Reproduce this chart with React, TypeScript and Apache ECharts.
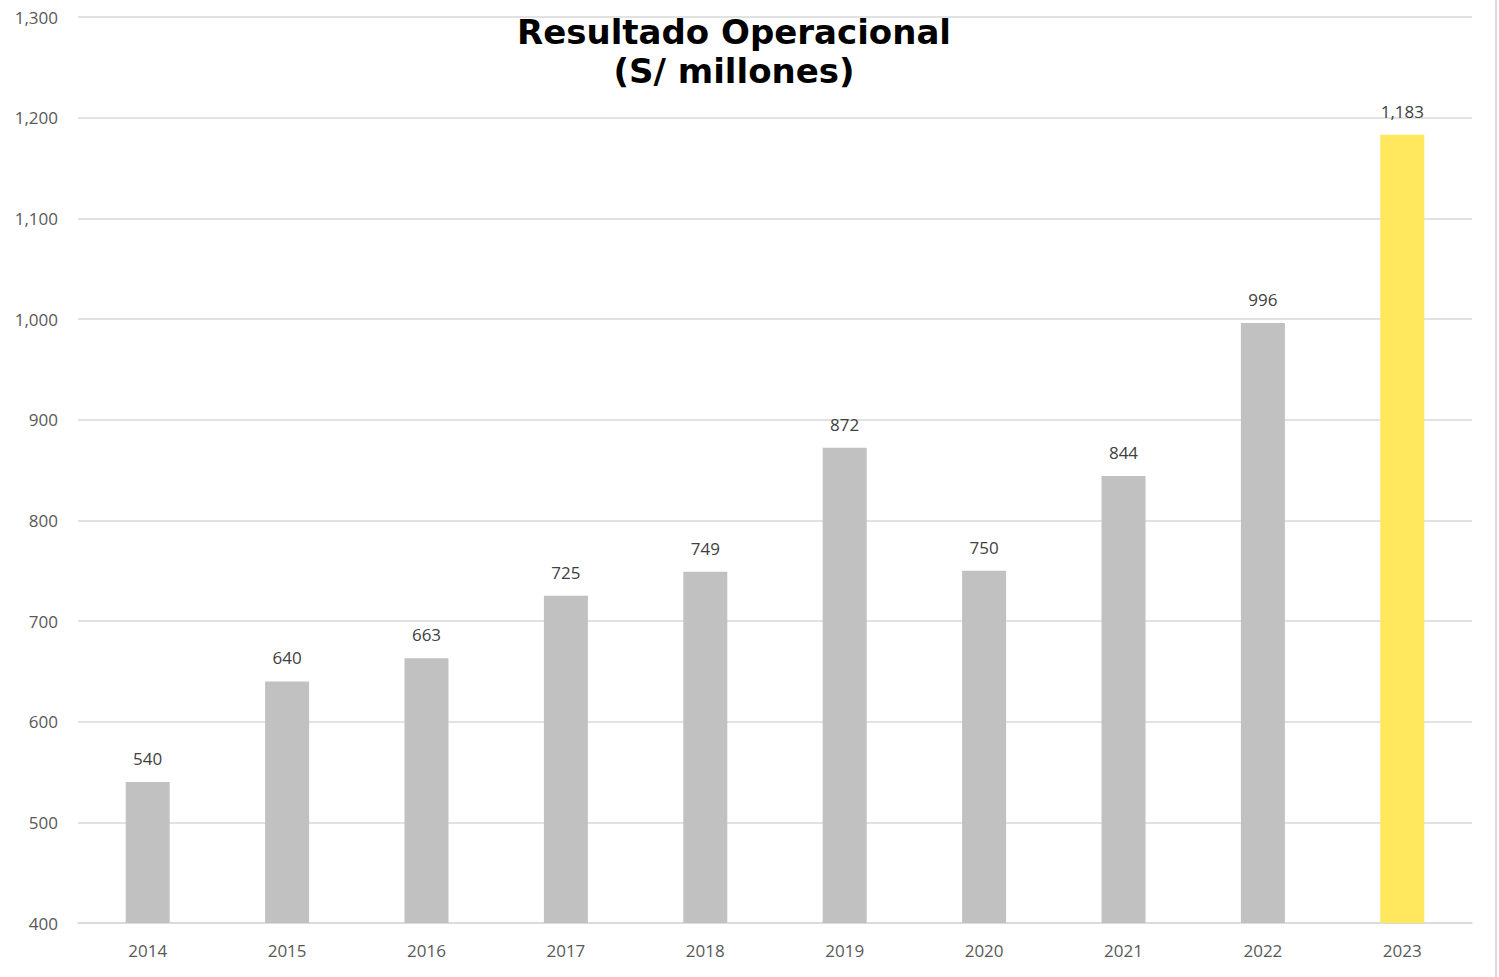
import React, { useEffect, useRef } from "react";
import * as echarts from "echarts";

const categories = ["2014", "2015", "2016", "2017", "2018", "2019", "2020", "2021", "2022", "2023"];
const values = [540, 640, 663, 725, 749, 872, 750, 844, 996, 1183];
const highlightYear = "2023";
const titleText = "Resultado Operacional\n(S/ millones)";

export default function App() {
  const ref = useRef<HTMLDivElement>(null);
  useEffect(() => {
    if (!ref.current) return;
    const chart = echarts.init(ref.current, undefined, { renderer: "svg" });
    chart.setOption({
      animation: false,
      backgroundColor: "#ffffff",
      title: {
        text: titleText,
        left: 729,
        top: 7,
        textAlign: "center",
        textStyle: {
          fontFamily: "DejaVu Sans",
          fontWeight: "bold",
          fontSize: 34,
          lineHeight: 39,
          color: "#000000",
        },
      },
      grid: { left: 78, right: 27, top: 17, bottom: 54, containLabel: false },
      xAxis: {
        type: "category",
        data: categories,
        axisLine: { show: true, lineStyle: { color: "#D9D9D9", width: 1.5 } },
        axisTick: { show: false },
        axisLabel: {
          color: "#595959",
          fontFamily: "Open Sans",
          fontSize: 17,
          margin: 19,
        },
      },
      yAxis: {
        type: "value",
        min: 400,
        max: 1300,
        interval: 100,
        axisLine: { show: false },
        axisTick: { show: false },
        splitLine: { lineStyle: { color: "#D9D9D9", width: 1.5 } },
        axisLabel: {
          color: "#595959",
          fontFamily: "Open Sans",
          fontSize: 17,
          margin: 20,
          formatter: (v: number) => v.toLocaleString("en-US"),
        },
      },
      series: [
        {
          type: "bar",
          data: values.map((v, i) => ({
            value: v,
            itemStyle: { color: categories[i] === highlightYear ? "#FFE75E" : "#C1C1C1" },
          })),
          barWidth: 44,
          label: {
            show: true,
            position: "top",
            distance: 15,
            color: "#404040",
            fontFamily: "Open Sans",
            fontSize: 17,
            formatter: (p: any) => Number(p.value).toLocaleString("en-US"),
          },
        },
      ],
      graphic: [
        {
          type: "line",
          shape: { x1: 1496, y1: 0, x2: 1496, y2: 977 },
          style: { stroke: "#D9D9D9", lineWidth: 2 },
        },
      ],
    });
    return () => chart.dispose();
  }, []);
  return <div ref={ref} style={{ width: 1499, height: 977, position: "absolute", left: 0, top: 0 }} />;
}
